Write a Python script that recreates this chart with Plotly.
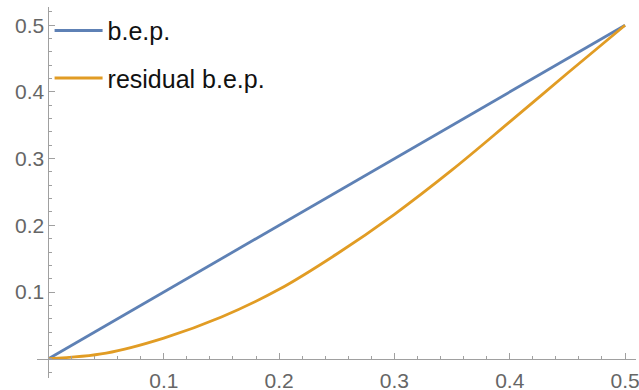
import plotly.graph_objects as go

# Data
bep_x = [0.0, 0.5]
bep_y = [0.0, 0.5]
res_x = [0.0, 0.05, 0.1, 0.15, 0.2, 0.25, 0.3, 0.35, 0.4, 0.45, 0.5]
res_y = [0.0, 0.0085, 0.031, 0.0625, 0.104, 0.157, 0.2165, 0.283, 0.355, 0.428, 0.5]
tick_vals = [0.1, 0.2, 0.3, 0.4, 0.5]
tick_text = ["0.1", "0.2", "0.3", "0.4", "0.5"]

BLUE = "#5E81B5"
ORANGE = "#E19C24"
AXIS = "#a0a0a0"
LABEL = "#666666"

xr = [-0.00997, 0.5095]
yr = [-0.0289, 0.5273]

fig = go.Figure()
fig.add_trace(go.Scatter(x=bep_x, y=bep_y, mode="lines", name="b.e.p.",
                         line=dict(color=BLUE, width=2.8), legendgroup="a"))
fig.add_trace(go.Scatter(x=res_x, y=res_y, mode="lines", name="residual b.e.p.",
                         line=dict(color=ORANGE, width=2.8, shape="spline", smoothing=1.0),
                         legendgroup="b"))

axis_common = dict(
    showgrid=False, zeroline=False, showline=True, linecolor=AXIS, linewidth=1,
    ticks="inside", ticklen=6, tickcolor=AXIS, tickwidth=1,
    tickvals=tick_vals, ticktext=tick_text,
    tickfont=dict(family="Liberation Sans, Arial, sans-serif", size=21, color=LABEL),
    minor=dict(dtick=0.02, tick0=0, ticks="inside", ticklen=3, tickcolor=AXIS, tickwidth=1),
    automargin=False, fixedrange=True, ticklabeloverflow="allow",
)

fig.update_layout(
    width=639, height=390,
    margin=dict(l=37, r=3, t=7, b=12),
    paper_bgcolor="white", plot_bgcolor="white",
    xaxis=dict(range=xr, anchor="free",
               position=(0 - yr[0]) / (yr[1] - yr[0]), ticklabelstandoff=3, **axis_common),
    yaxis=dict(range=yr, anchor="free",
               position=(0 - xr[0]) / (xr[1] - xr[0]), ticklabelstandoff=0, **axis_common),
    showlegend=True,
    legend=dict(x=0.021, y=0.998, xanchor="left", yanchor="top",
                bgcolor="rgba(0,0,0,0)", borderwidth=0,
                font=dict(family="Liberation Sans, Arial, sans-serif", size=25, color="#111111"),
                itemwidth=48, tracegroupgap=12, traceorder="grouped"),
)

fig.write_html("out.html", config={"displayModeBar": False},
               post_script="document.body.style.margin='0';")
